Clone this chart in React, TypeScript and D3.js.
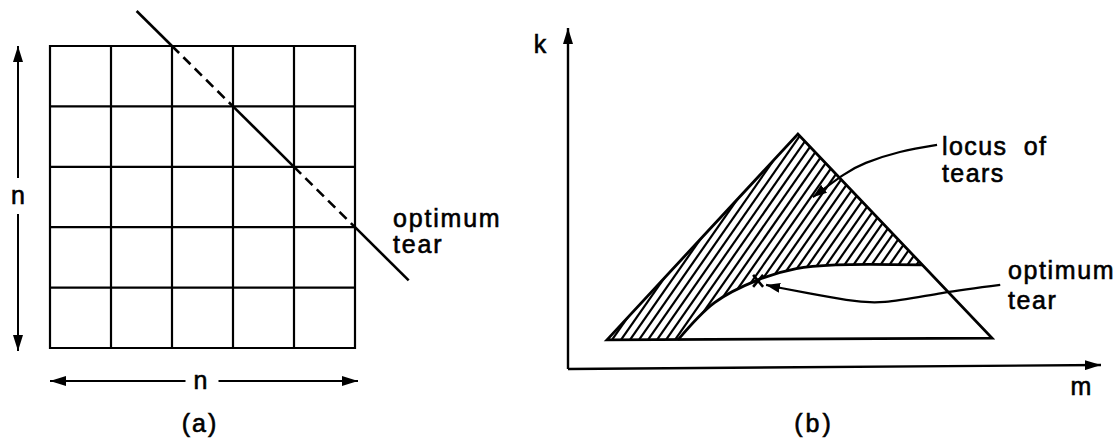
import React from 'react';
import * as d3 from 'd3';

// panel (a): 5 x 5 grid, positions in cell units
const gridLines = [0, 1, 2, 3, 4, 5];
const tearStart: [number, number] = [1.42, -0.58];
const tearEnd: [number, number] = [5.88, 3.88];
const tearBreaks = [2, 3, 4, 5]; // columns where the tear crosses a grid node
const dashedSpans = [[2, 3], [4, 5]];

// panel (b): m (across) and k (up)
const triangle: [number, number][] = [[7.34, 8.6], [43.3, 69.3], [79.85, 9.1]];
const tearCurve: [number, number][] = [[20.7, 8.6], [27.6, 19.6], [35.8, 26.3], [43.0, 29.6], [50.5, 30.7], [66.7, 30.7]];
const optimumMark: [number, number] = [35.8, 26.0];
const locusArrow: [number, number][] = [[69.5, 66.1], [62.5, 64.0], [56.1, 60.8], [51.8, 57.2], [46.1, 50.7]];
const optimumArrow: [number, number][] = [[81.4, 24.8], [70.4, 22.4], [59.7, 19.8], [52.4, 20.4], [45.2, 22.4], [40.1, 23.9], [37.3, 24.8]];

const font = '"Liberation Sans", Arial, sans-serif';

const App = () => {
    // panel (a)
    let ax = d3.scaleLinear().domain([0, 5]).range([50, 355]);
    let ay = d3.scaleLinear().domain([0, 5]).range([46, 348]);
    let tearY = (c: number) => tearStart[1] + (c - tearStart[0]) * (tearEnd[1] - tearStart[1]) / (tearEnd[0] - tearStart[0]);
    let cuts = [tearStart[0], ...tearBreaks, tearEnd[0]];
    let tearSegs = cuts.slice(1).map((c, i) => {
        let c0 = cuts[i];
        let dashed = dashedSpans.some(s => s[0] == c0 && s[1] == c);
        return { x1: ax(c0), y1: ay(tearY(c0)), x2: ax(c), y2: ay(tearY(c)), dashed };
    });

    // panel (b)
    let mx = d3.scaleLinear().domain([0, 100]).range([568, 1099]);
    let ky = d3.scaleLinear().domain([0, 100]).range([369, 30]);
    let straight = d3.line<[number, number]>().x(d => mx(d[0])).y(d => ky(d[1]));
    let smooth = d3.line<[number, number]>().x(d => mx(d[0])).y(d => ky(d[1])).curve(d3.curveCatmullRom.alpha(0.5));
    let natural = d3.line<[number, number]>().x(d => mx(d[0])).y(d => ky(d[1])).curve(d3.curveNatural);

    let triPath = straight(triangle) + 'Z';
    let curvePath = smooth(tearCurve);
    let last = tearCurve[tearCurve.length - 1];
    let abovePath = curvePath + `L${mx(100)},${ky(last[1])}L${mx(100)},${ky(100)}L${mx(0)},${ky(100)}L${mx(0)},${ky(tearCurve[0][1])}Z`;

    let top = ky(triangle[1][1]) - 10, bottom = ky(triangle[0][1]) + 10;
    let slant = 0.7;
    let hatch = d3.range(mx(triangle[0][0]) - 200, mx(triangle[2][0]), 9).map((x0, i) => (
        <line key={i} x1={x0} y1={bottom} x2={x0 + slant * (bottom - top)} y2={top} stroke="black" strokeWidth={2.2} />
    ));

    let ox = mx(optimumMark[0]), oy = ky(optimumMark[1]);

    return (
        <svg width={1119} height={443} style={{ position: 'absolute', left: 0, top: 0, background: 'white' }}>
            <defs>
                <marker id="head" markerUnits="userSpaceOnUse" markerWidth={16} markerHeight={10} refX={16} refY={5} orient="auto">
                    <path d="M0,0L16,5L0,10Z" fill="black" />
                </marker>
                <marker id="small" markerUnits="userSpaceOnUse" markerWidth={14} markerHeight={10} refX={14} refY={5} orient="auto">
                    <path d="M0,0L14,5L0,10Z" fill="black" />
                </marker>
                <clipPath id="tri"><path d={triPath} /></clipPath>
                <clipPath id="above"><path d={abovePath} /></clipPath>
            </defs>

            {/* (a) grid */}
            <g stroke="black" strokeWidth={2.2}>
                {gridLines.map(c => <line key={'v' + c} x1={ax(c)} x2={ax(c)} y1={ay(0) - 1} y2={ay(5) + 1} />)}
                {gridLines.map(r => <line key={'h' + r} x1={ax(0) - 1} x2={ax(5) + 1} y1={ay(r)} y2={ay(r)} />)}
            </g>
            <g stroke="black" strokeWidth={2.6}>
                {tearSegs.map((s, i) => <line key={i} x1={s.x1} y1={s.y1} x2={s.x2} y2={s.y2} strokeDasharray={s.dashed ? '10,6' : undefined} />)}
            </g>

            {/* (a) dimension arrows */}
            <g stroke="black" strokeWidth={2}>
                <line x1={18} x2={18} y1={ay(2.5) - 19} y2={ay(0)} markerEnd="url(#head)" />
                <line x1={18} x2={18} y1={ay(2.5) + 17} y2={ay(5) + 3} markerEnd="url(#head)" />
                <line x1={ax(2.5) - 17} x2={ax(0)} y1={381} y2={381} markerEnd="url(#head)" />
                <line x1={ax(2.5) + 16} x2={ax(5) + 3} y1={381} y2={381} markerEnd="url(#head)" />
            </g>
            <g fontFamily={font} fontSize={25} fill="black" stroke="black" strokeWidth={0.6}>
                <text x={18} y={204} textAnchor="middle">n</text>
                <text x={ax(2.5) - 2} y={389} textAnchor="middle">n</text>
                <text x={393} y={227} letterSpacing={1.8}>optimum</text>
                <text x={393} y={253} letterSpacing={1.8}>tear</text>
                <text x={200} y={432} textAnchor="middle" letterSpacing={2}>(a)</text>
            </g>

            {/* (b) axes */}
            <g stroke="black" strokeWidth={2.4}>
                <line x1={mx(0)} x2={mx(0)} y1={ky(0)} y2={ky(100) - 2} markerEnd="url(#head)" />
                <line x1={mx(0)} x2={mx(100) + 2} y1={ky(0)} y2={ky(0) - 4} markerEnd="url(#head)" />
            </g>

            {/* (b) hatched locus */}
            <g clipPath="url(#tri)">
                <g clipPath="url(#above)">{hatch}</g>
            </g>
            <path d={triPath} fill="none" stroke="black" strokeWidth={2.8} strokeLinejoin="miter" />
            <path d={curvePath} fill="none" stroke="black" strokeWidth={2.8} />

            {/* optimum mark */}
            <g stroke="black" strokeWidth={2.6}>
                <line x1={ox - 5} y1={oy - 6} x2={ox + 5} y2={oy + 6} />
                <line x1={ox + 5} y1={oy - 6} x2={ox - 5} y2={oy + 6} />
            </g>

            <path d={natural(locusArrow)} fill="none" stroke="black" strokeWidth={2.2} markerEnd="url(#small)" />
            <path d={natural(optimumArrow)} fill="none" stroke="black" strokeWidth={2.2} markerEnd="url(#small)" />

            <g fontFamily={font} fontSize={25} fill="black" stroke="black" strokeWidth={0.6}>
                <text x={540} y={53} textAnchor="middle">k</text>
                <text x={1081} y={395} textAnchor="middle">m</text>
                <text x={942} y={155} letterSpacing={1.4} wordSpacing={8}>locus of</text>
                <text x={942} y={182} letterSpacing={1.4}>tears</text>
                <text x={1008} y={279} letterSpacing={1.6}>optimum</text>
                <text x={1008} y={309} letterSpacing={1.6}>tear</text>
                <text x={814} y={432} textAnchor="middle" letterSpacing={3}>(b)</text>
            </g>
        </svg>
    );
};

export default App;
